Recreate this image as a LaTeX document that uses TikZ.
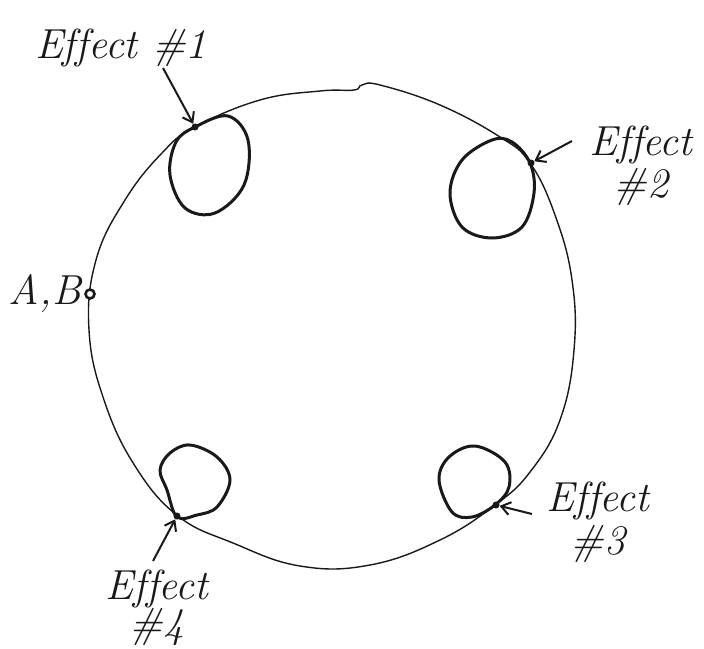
\documentclass[tikz,border=0pt]{standalone}
\usepackage{xcolor}
\usepackage{tikz}
\usetikzlibrary{arrows.meta, positioning}
\colorlet{ink}{black!90}

\begin{document}
\begin{tikzpicture}[x=1pt, y=-1pt,
    rim/.style={draw=ink, line width=1.4pt},
    eloop/.style={draw=ink, line width=3pt},
    touch/.style={circle, fill=ink, inner sep=0pt, minimum size=7pt},
    hand/.style={font=\fontsize{42}{44}\selectfont\itshape, text=ink, align=center, inner sep=0pt},
    pointer/.style={-{Straight Barb[length=9pt, width=13pt]}, line width=2pt, ink}]
    \useasboundingbox (0,0) rectangle (704,648);

    % the wheel, as drawn by hand
    \draw[rim] plot[smooth cycle, tension=0.7] coordinates {
      (195,127) (260,100) (320,91) (354,90) (362,85) (380,85) (440,105) (500,137)
      (530,163) (555,215) (572,280) (574,350) (560,420) (530,472) (495,505)
      (440,540) (370,565) (300,566) (233,543) (178,516) (135,466) (104,400)
      (89,330) (96,260) (125,200) (162,153)};

    % the four loops
    \draw[eloop] plot[smooth cycle, tension=0.6] coordinates {
      (195,127) (228,116) (248,140) (244,185) (215,213) (185,208) (170,175) (176,142)};
    \draw[eloop] plot[smooth cycle, tension=0.6] coordinates {
      (530,163) (512,142) (492,140) (462,160) (450,193) (462,227) (492,238) (522,227) (534,193)};
    \draw[eloop] plot[smooth cycle, tension=0.6] coordinates {
      (495,505) (509,487) (505,462) (475,446) (449,457) (439,480) (452,512) (472,517)};
    \draw[eloop] plot[smooth cycle, tension=0.6] coordinates {
      (177,517) (167,490) (160,470) (170,453) (190,445) (217,457) (230,480) (217,507) (197,515)};

    \node[touch] (e1) at (195,127) {};
    \node[touch] (e2) at (531,163) {};
    \node[touch] (e3) at (496,505) {};
    \node[touch] (e4) at (177,516) {};

    \node[circle, draw=ink, fill=white, line width=2.6pt, inner sep=0pt, minimum size=9pt] (ab) at (90,294) {};
    \node[hand, left=3pt of ab] (lab) {A,B};

    \node[hand] (l1) at (121,48) {Ef\kern0ptfect \#1};
    \node[hand] (l2) at (641,166) {Ef\kern0ptfect\\[-2pt]\#2};
    \node[hand] (l3) at (598,522) {Ef\kern0ptfect\\[-1pt]\#3};
    \node[hand] (l4) at (157,608) {Ef\kern0ptfect\\[-6pt]\#4};

    \coordinate (a1) at (163,68);
    \coordinate (a2) at (572,141);
    \coordinate (a3) at (532,514);
    \coordinate (a4) at (153,561);
    \draw[pointer] (a1) -- (e1);
    \draw[pointer] (a2) -- (e2);
    \draw[pointer] (a3) -- (e3);
    \draw[pointer] (a4) -- (e4);
\end{tikzpicture}
\end{document}
